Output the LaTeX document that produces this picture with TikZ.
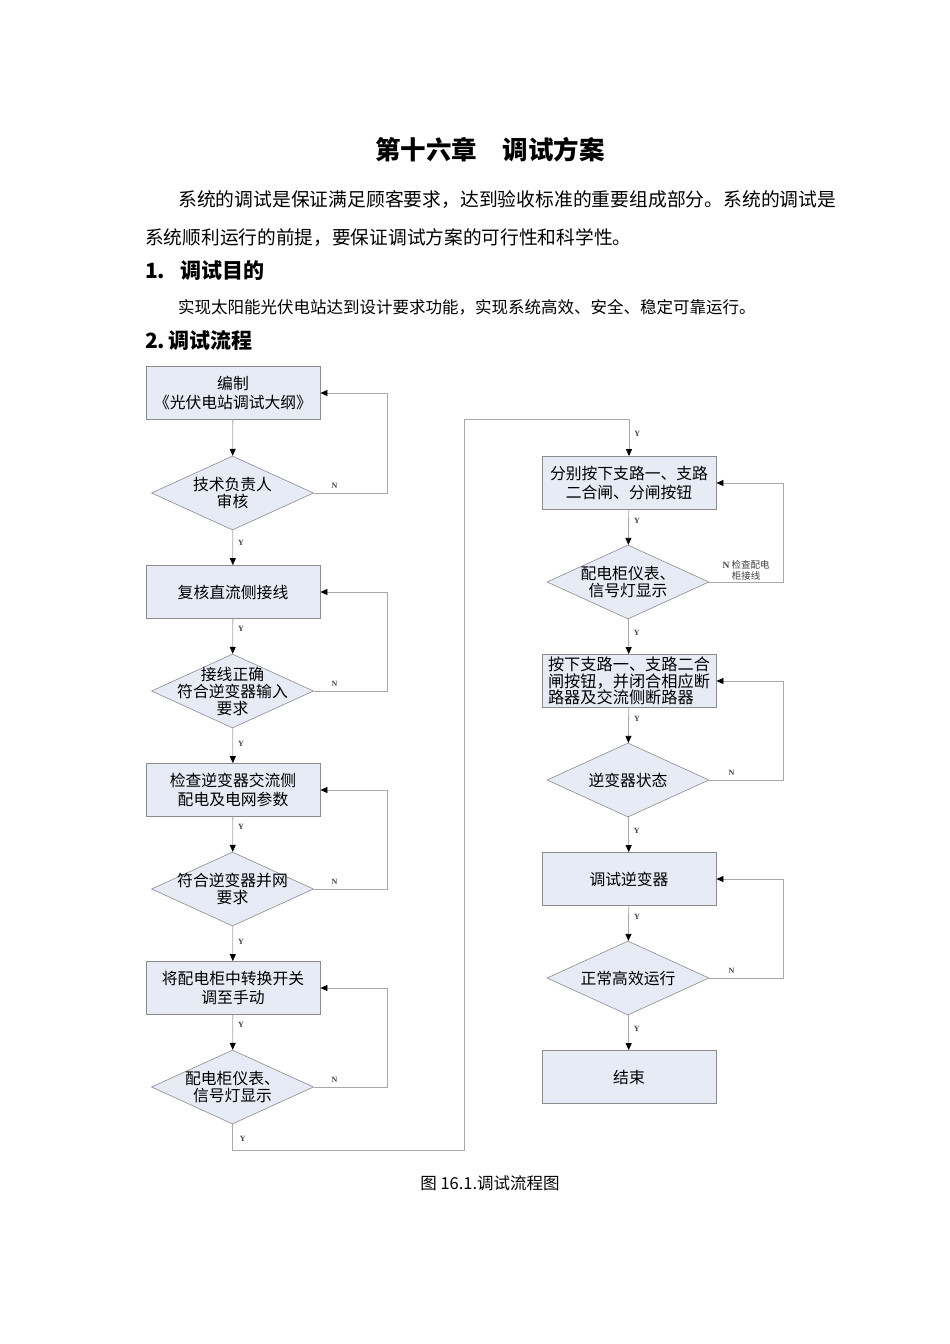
\documentclass[tikz,border=0pt]{standalone}
\usepackage{fontspec}
\setmainfont{Noto Sans CJK SC}
\newfontfamily\labfont{Liberation Serif}
\usetikzlibrary{shapes.geometric,arrows.meta}
\definecolor{boxfill}{HTML}{E7EBF6}
\definecolor{boxgray}{HTML}{8C8C8C}
\definecolor{linegray}{HTML}{A8A8A8}
\tikzset{
  box/.style={draw=boxgray, fill=boxfill, line width=0.8pt, minimum width=174pt, minimum height=53pt, inner sep=0pt, align=center, font=\fontsize{15.8}{18.5}\selectfont},
  dia/.style={diamond, draw=boxgray, fill=boxfill, line width=0.6pt, minimum width=162pt, minimum height=74pt, inner sep=0pt},
  dtext/.style={align=center, font=\fontsize{15.8}{17}\selectfont, inner sep=0pt},
  link/.style={draw=linegray, line width=0.8pt},
  arr/.style={link, -{Triangle[length=7pt,width=6pt,color=black]}},
  lab/.style={font=\labfont\bfseries\fontsize{8}{9}\selectfont, text=black!75, inner sep=1pt},
  para/.style={anchor=west, inner sep=0pt, font=\fontsize{18.7}{20}\selectfont},
  head/.style={anchor=west, inner sep=0pt, font=\bfseries\fontsize{21}{23}\selectfont}
}
\begin{document}
\begin{tikzpicture}[x=1pt,y=-1pt]
\useasboundingbox[fill=white] (0,0) rectangle (950,1344);
% text
\node[inner sep=0pt, font=\bfseries\fontsize{25.5}{27}\selectfont] (title) at (490,150) {第十六章\hspace{1em}调试方案};
\node[para, font=\fontsize{18.8}{21}\selectfont] (p1) at (178,200) {系统的调试是保证满足顾客要求，达到验收标准的重要组成部分。系统的调试是};
\node[para] (p2) at (145,238) {系统顺利运行的前提，要保证调试方案的可行性和科学性。};
\node[head] (h1) at (145,271) {1.\hspace{0.7em}调试目的};
\node[para, font=\fontsize{16.5}{18}\selectfont] (p3) at (178,307) {实现太阳能光伏电站达到设计要求功能，实现系统高效、安全、稳定可靠运行。};
\node[head] (h2) at (145,340) {2.\,调试流程};
% left column
\node[box] (b1) at (233,393) {编制\\《光伏电站调试大纲》};
\node[dia] (d1) at (232.5,493) {};
\node[dtext] (t1) at (d1) {技术负责人\\审核};
\node[box] (b2) at (233,592) {复核直流侧接线};
\node[dia] (d2) at (232.5,691) {};
\node[dtext] (t2) at (d2) {接线正确\\符合逆变器输入\\要求};
\node[box] (b3) at (233,790) {检查逆变器交流侧\\配电及电网参数};
\node[dia] (d3) at (232.5,889) {};
\node[dtext] (t3) at (d3) {符合逆变器并网\\要求};
\node[box] (b4) at (233,988) {将配电柜中转换开关\\调至手动};
\node[dia] (d4) at (232.5,1087) {};
\node[dtext] (t4) at (d4) {配电柜仪表、\\信号灯显示};
% right column
\node[box] (b5) at (629,483) {分别按下支路一、支路\\二合闸、分闸按钮};
\node[dia] (d5) at (628,582) {};
\node[dtext] (t5) at (d5) {配电柜仪表、\\信号灯显示};
\node[box, align=left, font=\fontsize{16.2}{16.5}\selectfont] (b6) at (629,681) {按下支路一、支路二合\\闸按钮，并闭合相应断\\路器及交流侧断路器};
\node[dia] (d6) at (628,780) {};
\node[dtext] (t6) at (d6) {逆变器状态};
\node[box] (b7) at (629,879) {调试逆变器};
\node[dia] (d7) at (628,978) {};
\node[dtext] (t7) at (d7) {正常高效运行};
\node[box] (b8) at (629,1077) {结束};
% caption
\node[inner sep=0pt, font=\fontsize{16.5}{18}\selectfont] (cap) at (490,1183) {图 16.1.调试流程图};
% connectors left
\draw[arr] (b1) -- (d1);
\draw[arr] (d1) -- node[lab, right=4pt, pos=0.35] {Y} (b2);
\draw[arr] (b2) -- node[lab, right=4pt, pos=0.3] {Y} (d2);
\draw[arr] (d2) -- node[lab, right=4pt, pos=0.45] {Y} (b3);
\draw[arr] (b3) -- node[lab, right=4pt, pos=0.3] {Y} (d3);
\draw[arr] (d3) -- node[lab, right=4pt, pos=0.45] {Y} (b4);
\draw[arr] (b4) -- node[lab, right=4pt, pos=0.3] {Y} (d4);
\draw[arr] (d1.east) -- node[lab, above=3pt, pos=0.28] {N} ++(74,0) |- (b1.east);
\draw[arr] (d2.east) -- node[lab, above=3pt, pos=0.28] {N} ++(74,0) |- (b2.east);
\draw[arr] (d3.east) -- node[lab, above=3pt, pos=0.28] {N} ++(74,0) |- (b3.east);
\draw[arr] (d4.east) -- node[lab, above=3pt, pos=0.28] {N} ++(74,0) |- (b4.east);
% cross connector
\coordinate (c1) at (464,1150);
\coordinate (c2) at (464,419);
\draw[arr] (d4.south) -- node[lab, right=6pt, pos=0.55] {Y} (d4.south |- c1) -- (c1) -- (c2) -| node[lab, right=4pt, pos=0.7] {Y} (b5.north);
% connectors right
\draw[arr] (b5) -- node[lab, right=4pt, pos=0.3] {Y} (d5);
\draw[arr] (d5) -- node[lab, right=4pt, pos=0.4] {Y} (b6);
\draw[arr] (b6) -- node[lab, right=4pt, pos=0.3] {Y} (d6);
\draw[arr] (d6) -- node[lab, right=4pt, pos=0.4] {Y} (b7);
\draw[arr] (b7) -- node[lab, right=4pt, pos=0.3] {Y} (d7);
\draw[arr] (d7) -- node[lab, right=4pt, pos=0.4] {Y} (b8);
\draw[arr] (d5.east) -- ++(74,0) |- (b5.east);
\node[inner sep=0pt, align=center, text=black!75, font=\fontsize{9.5}{11}\selectfont] (nl5) at (746,570) {{\labfont\bfseries N} 检查配电\\柜接线};
\draw[arr] (d6.east) -- node[lab, above=3pt, pos=0.3] {N} ++(74,0) |- (b6.east);
\draw[arr] (d7.east) -- node[lab, above=3pt, pos=0.3] {N} ++(74,0) |- (b7.east);
\end{tikzpicture}
\end{document}
